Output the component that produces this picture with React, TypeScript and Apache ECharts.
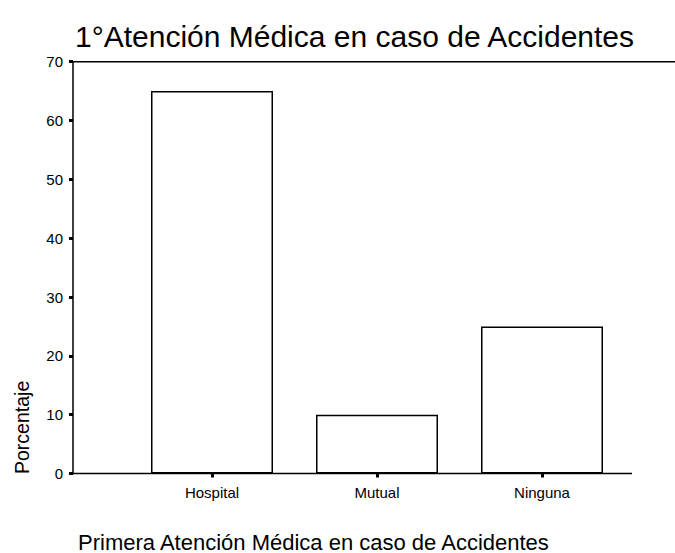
import React, { useEffect, useRef } from "react";
import * as echarts from "echarts";

const categories = ["Hospital", "Mutual", "Ninguna"];
const percentages = [65, 10, 25];
const yMin = 0;
const yMax = 70;
const yStep = 10;
const chartTitle = "1°Atención Médica en caso de Accidentes";
const xAxisTitle = "Primera Atención Médica en caso de Accidentes";
const yAxisTitle = "Porcentaje";

const FONT = "'Liberation Sans', Arial, sans-serif";

export default function App() {
  const ref = useRef<HTMLDivElement>(null);
  useEffect(() => {
    if (!ref.current) return;
    const chart = echarts.init(ref.current, null, { renderer: "svg" });
    const gridLeft = 129.5;
    const gridRight = 50.5;
    const gridTop = 61.7;
    const gridBottom = 79.5;
    const axisX = 73;
    const baseY = 553 - gridBottom;
    chart.setOption({
      animation: false,
      backgroundColor: "#fff",
      textStyle: { fontFamily: FONT },
      title: [
        {
          text: chartTitle,
          left: 70,
          top: 16,
          textStyle: { fontSize: 30, fontWeight: "normal", color: "#000", fontFamily: FONT },
        },
        {
          text: xAxisTitle,
          left: 73,
          top: 526,
          textStyle: { fontSize: 22, fontWeight: "normal", color: "#000", fontFamily: FONT },
        },
      ],
      grid: { left: gridLeft, right: gridRight, top: gridTop, bottom: gridBottom },
      xAxis: {
        type: "category",
        data: categories,
        boundaryGap: true,
        axisLine: { show: false },
        axisTick: { show: true, alignWithLabel: true, length: 4, lineStyle: { color: "#000", width: 3 } },
        axisLabel: { color: "#000", fontSize: 15, margin: 11, fontFamily: FONT },
        splitLine: { show: false },
      },
      yAxis: {
        type: "value",
        min: yMin,
        max: yMax,
        interval: yStep,
        offset: gridLeft - axisX,
        axisLine: { show: true, lineStyle: { color: "#000", width: 1.5 } },
        axisTick: { show: true, length: 4, lineStyle: { color: "#000", width: 3 } },
        axisLabel: { color: "#000", fontSize: 15, margin: 10, fontFamily: FONT },
        splitLine: { show: false },
      },
      graphic: [
        {
          type: "line",
          shape: { x1: axisX, y1: gridTop, x2: 675, y2: gridTop },
          style: { stroke: "#000", lineWidth: 1.5 },
        },
        {
          type: "line",
          shape: { x1: axisX, y1: baseY, x2: 632, y2: baseY },
          style: { stroke: "#000", lineWidth: 1.5 },
        },
        {
          type: "text",
          x: 22,
          y: 474,
          rotation: Math.PI / 2,
          style: {
            text: yAxisTitle,
            fontSize: 19.5,
            fontFamily: FONT,
            fill: "#000",
            textAlign: "left",
            textVerticalAlign: "middle",
          },
        },
      ],
      series: [
        {
          type: "bar",
          data: percentages,
          barWidth: 122,
          itemStyle: { color: "#fff", borderColor: "#000", borderWidth: 1.5 },
        },
      ],
    });
    return () => chart.dispose();
  }, []);
  return (
    <div
      ref={ref}
      style={{ position: "fixed", left: 0, top: 0, width: 675, height: 553, background: "#fff" }}
    />
  );
}
